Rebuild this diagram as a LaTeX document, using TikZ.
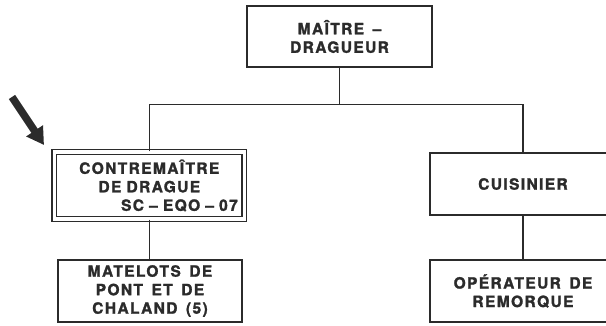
\documentclass[tikz,border=0pt]{standalone}
\usepackage{fontspec}
\setmainfont{texgyreheros}[Extension=.otf, UprightFont=*-regular, BoldFont=*-bold, BoldFeatures={FakeBold=1.6}, LetterSpace=9, WordSpace=1.5]
\usetikzlibrary{calc, arrows.meta}
\tikzset{>=latex}
\definecolor{ink}{gray}{0.17}
\tikzset{post/.style = {draw=ink, line width=1.3, minimum width=186, minimum height=62, inner sep=0, align=center, text=ink, font=\bfseries\fontsize{15.5}{18.5}\selectfont}}
\tikzset{wire/.style = {draw=ink, line width=1.3}}

\begin{document}
\begin{tikzpicture}[x=1pt, y=-1pt]
		\useasboundingbox (0,0) rectangle (606,326);
		\clip (0,0) rectangle (606,326);
		
		% Boxes
		\node[post, minimum width=185, minimum height=61] (maitre) at (339.5,36.5) {MAÎTRE –\\DRAGUEUR};
		%
		\node[post, double, double distance=3.5, minimum width=190, minimum height=67, text width=177] (contremaitre) at (149.3,185.5) {CONTREMAÎTRE\\DE DRAGUE\\\makebox[\linewidth][r]{SC – EQO – 07}};
		\node[post] (cuisinier) at (523,184) {CUISINIER};
		%
		\node[post, minimum width=184] (matelots) at (150,291) {MATELOTS DE\\PONT ET DE\\CHALAND (5)};
		\node[post] (operateur) at (523,291) {OPÉRATEUR DE\\REMORQUE};
		
		% Lines
		\coordinate (bus) at ($(maitre.south)+(0,37)$);
		\draw[wire] (maitre.south) -- (bus);
		\draw[wire] (contremaitre.north) |- (bus) -| (cuisinier.north);
		\draw[wire] (contremaitre.south) -- (contremaitre.south |- matelots.north);
		\draw[wire] (cuisinier) -- (operateur);
		
		% Pointer
		\coordinate (tail) at (12,97);
		\coordinate (tip) at (44,145);
		\draw[ink, line width=7.5, -{Triangle[width=19pt, length=17pt]}] (tail) -- (tip);
	\end{tikzpicture}
\end{document}
